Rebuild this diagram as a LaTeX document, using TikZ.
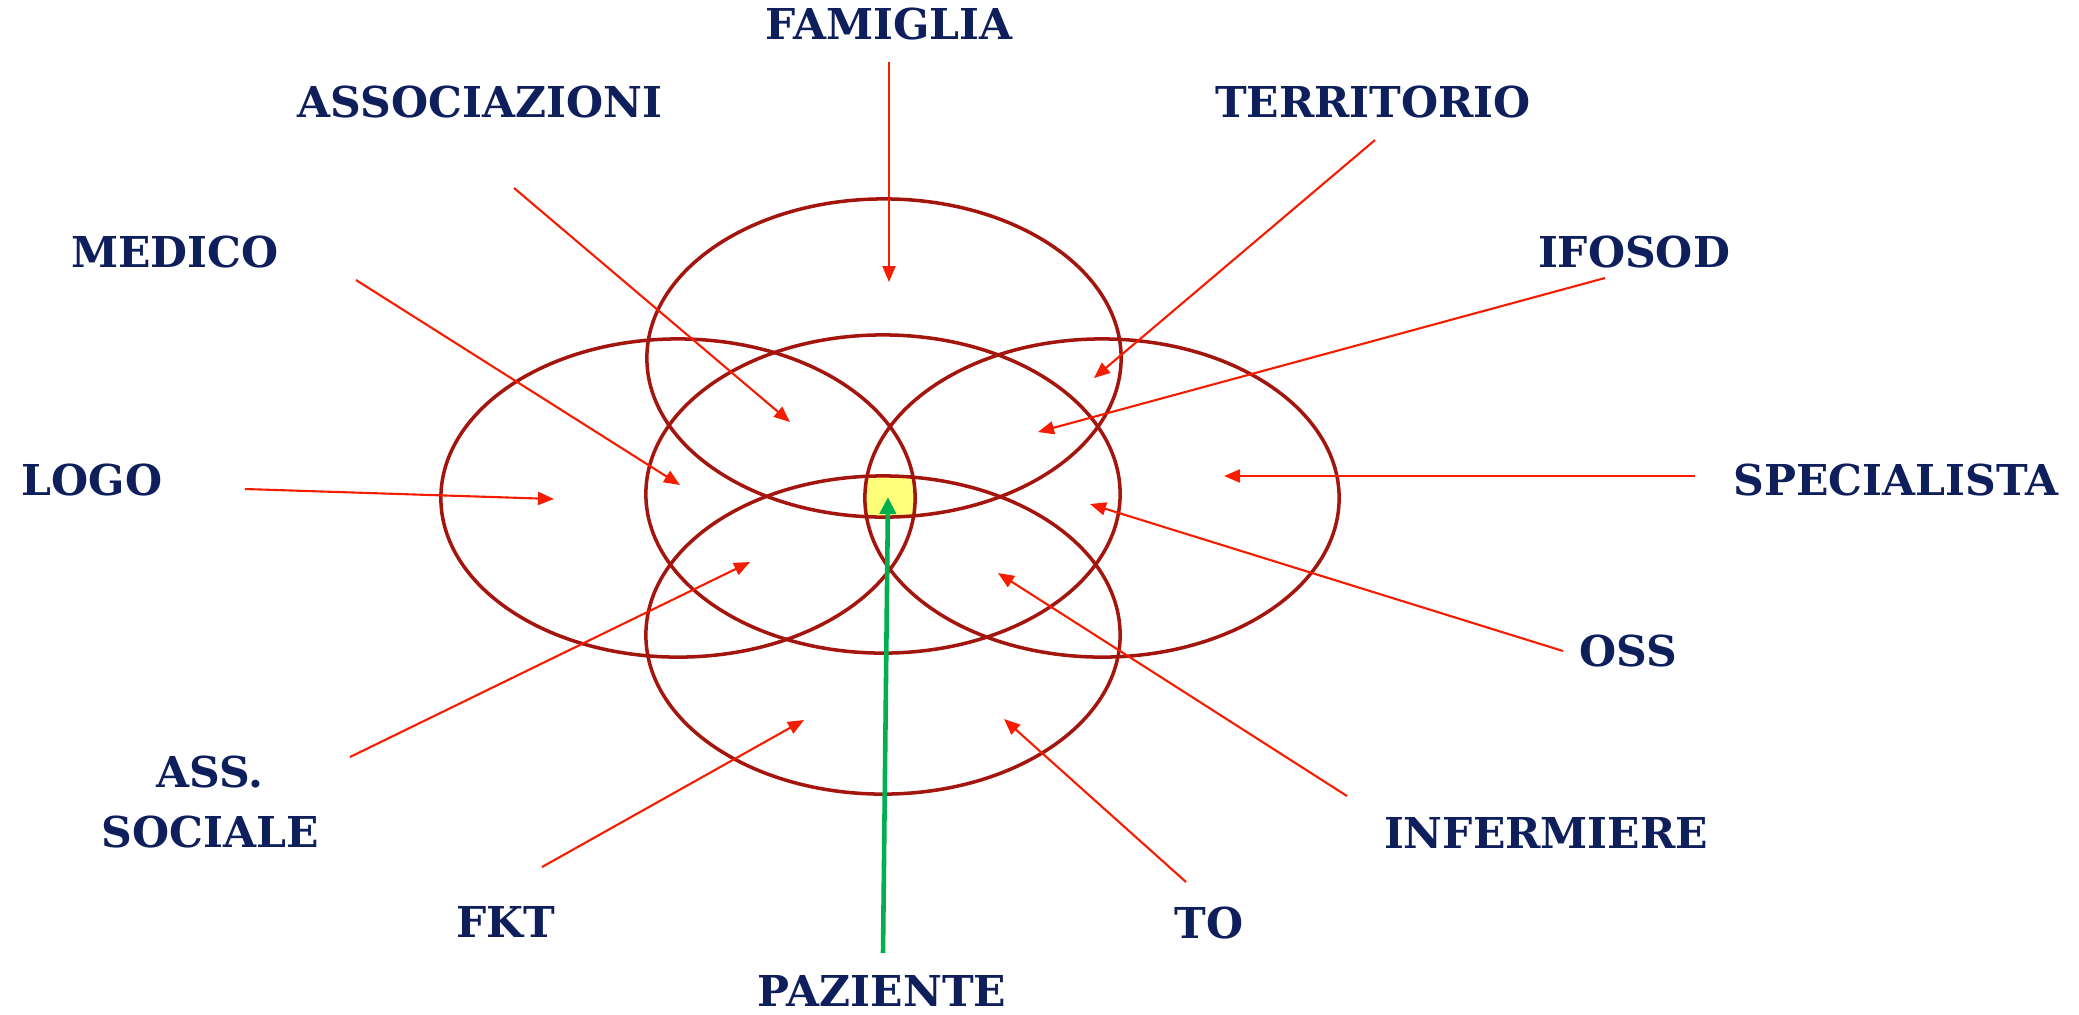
\documentclass[tikz,border=0pt]{standalone}
\usepackage{fontspec}
\setmainfont{DejaVu Serif}
\usetikzlibrary{arrows.meta}
\definecolor{navy}{HTML}{0E1F5C}
\definecolor{ring}{HTML}{A3150D}
\definecolor{pointer}{HTML}{F51C00}
\definecolor{patient}{HTML}{00B050}
\definecolor{core}{HTML}{FFFF7A}
\tikzset{
  ring/.style={line width=1pt, color=ring},
  link/.style={-{Triangle[length=1.6mm, width=1.3mm]}, line width=0.6pt, color=pointer},
  care/.style={-{Triangle[length=1.7mm, width=1.6mm]}, line width=1.3pt, color=patient},
  role/.style={font=\bfseries\fontsize{12.1}{17}\selectfont, text=navy, inner sep=0pt, align=center}
}

\begin{document}
\begin{tikzpicture}[x=0.01cm, y=-0.01cm]
\useasboundingbox (0,0) rectangle (2079,1014);

% centre of the five rings
\begin{scope}
  \clip (678,498) ellipse [x radius=2.37cm, y radius=1.59cm];
  \clip (1102,498) ellipse [x radius=2.37cm, y radius=1.59cm];
  \clip (884,358) ellipse [x radius=2.37cm, y radius=1.59cm];
  \clip (883,635) ellipse [x radius=2.37cm, y radius=1.59cm];
  \fill[core] (800,400) rectangle (1000,600);
\end{scope}

\draw[ring] (884,358) ellipse [x radius=2.37cm, y radius=1.59cm];
\draw[ring] (678,498) ellipse [x radius=2.37cm, y radius=1.59cm];
\draw[ring] (883,494) ellipse [x radius=2.37cm, y radius=1.59cm];
\draw[ring] (1102,498) ellipse [x radius=2.37cm, y radius=1.59cm];
\draw[ring] (883,635) ellipse [x radius=2.37cm, y radius=1.59cm];

% labels
\node[role] (famiglia) at (889,24) {FAMIGLIA};
\node[role] (associazioni) at (480,102) {ASSOCIAZIONI};
\node[role] (territorio) at (1373,102) {TERRITORIO};
\node[role] (medico) at (175,252) {MEDICO};
\node[role] (ifosod) at (1634,252) {IFOSOD};
\node[role] (logo) at (92,480) {LOGO};
\node[role] (specialista) at (1896,480) {SPECIALISTA};
\node[role] (oss) at (1628,651) {OSS};
\node[role] (asssociale) at (210,802) {ASS.\\SOCIALE};
\node[role] (infermiere) at (1546,833) {INFERMIERE};
\node[role] (fkt) at (506,922) {FKT};
\node[role] (tolabel) at (1209,923) {TO};
\node[role] (paziente) at (882,991) {PAZIENTE};

% line ends
\coordinate (famiglia-s) at (889,62);
\coordinate (famiglia-t) at (889,282);
\coordinate (associazioni-s) at (514,188);
\coordinate (associazioni-t) at (790,422);
\coordinate (territorio-s) at (1375,140);
\coordinate (territorio-t) at (1094,378);
\coordinate (medico-s) at (356,280);
\coordinate (medico-t) at (680,485);
\coordinate (ifosod-s) at (1605,278);
\coordinate (ifosod-t) at (1038,432);
\coordinate (logo-s) at (245,489);
\coordinate (logo-t) at (554,499);
\coordinate (specialista-s) at (1695,476);
\coordinate (specialista-t) at (1224,476);
\coordinate (oss-s) at (1563,651);
\coordinate (oss-t) at (1090,504);
\coordinate (asssociale-s) at (350,757);
\coordinate (asssociale-t) at (750,562);
\coordinate (infermiere-s) at (1347,796);
\coordinate (infermiere-t) at (998,573);
\coordinate (fkt-s) at (542,867);
\coordinate (fkt-t) at (804,720);
\coordinate (tolabel-s) at (1186,882);
\coordinate (tolabel-t) at (1004,719);
\coordinate (paziente-s) at (883,953);
\coordinate (paziente-t) at (888,497);

\draw[link] (famiglia-s) -- (famiglia-t);
\draw[link] (associazioni-s) -- (associazioni-t);
\draw[link] (territorio-s) -- (territorio-t);
\draw[link] (medico-s) -- (medico-t);
\draw[link] (ifosod-s) -- (ifosod-t);
\draw[link] (logo-s) -- (logo-t);
\draw[link] (specialista-s) -- (specialista-t);
\draw[link] (oss-s) -- (oss-t);
\draw[link] (asssociale-s) -- (asssociale-t);
\draw[link] (infermiere-s) -- (infermiere-t);
\draw[link] (fkt-s) -- (fkt-t);
\draw[link] (tolabel-s) -- (tolabel-t);
\draw[care] (paziente-s) -- (paziente-t);

\end{tikzpicture}
\end{document}
